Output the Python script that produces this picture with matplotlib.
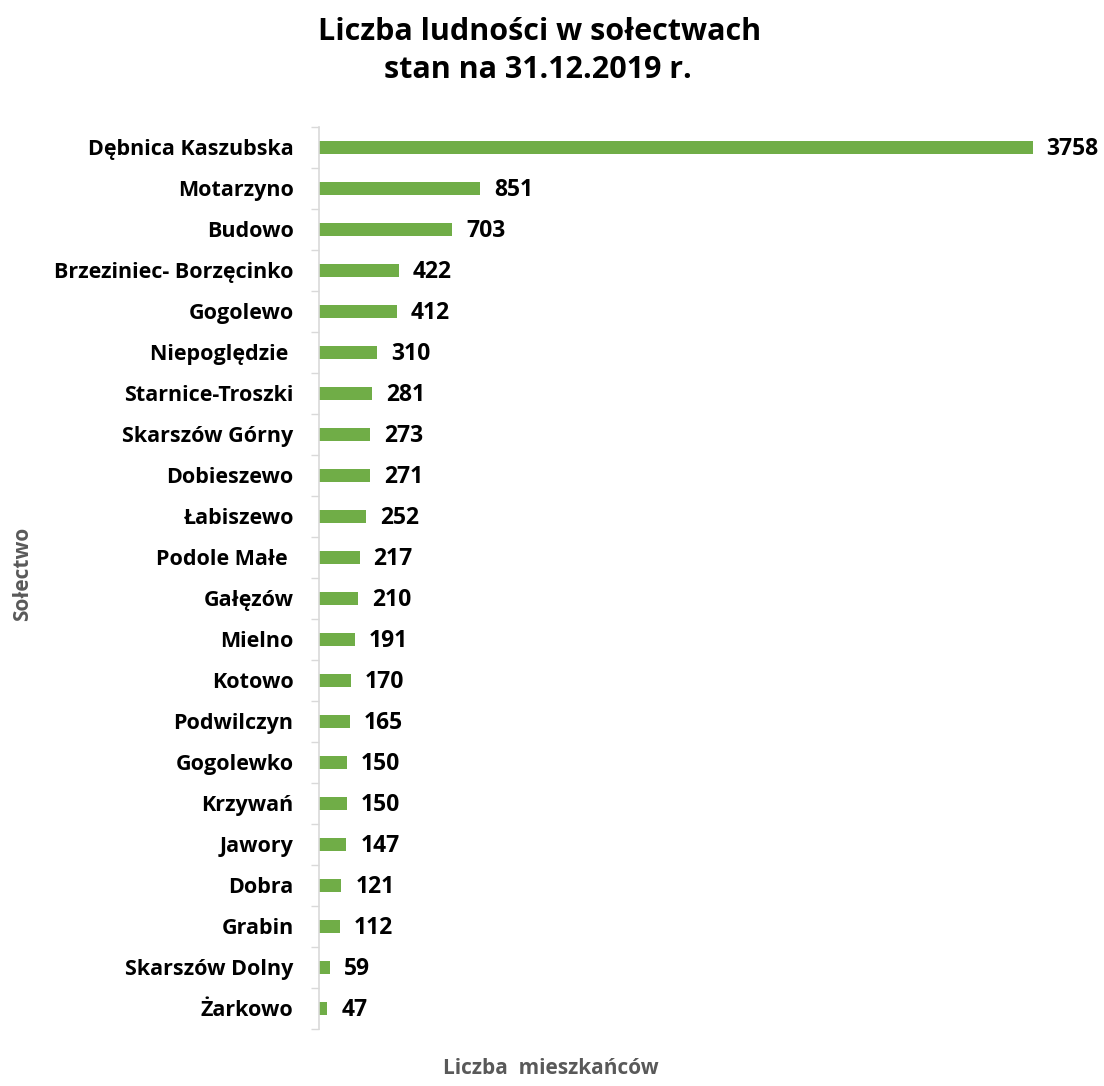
import numpy as np
import matplotlib.pyplot as plt
from matplotlib.ticker import FixedLocator

plt.rcParams['font.family'] = ['Open Sans', 'DejaVu Sans']

# Sołectwa and population (state at 31.12.2019)
villages = ['Dębnica Kaszubska', 'Motarzyno', 'Budowo', 'Brzeziniec- Borzęcinko',
            'Gogolewo', 'Niepoględzie ', 'Starnice-Troszki', 'Skarszów Górny',
            'Dobieszewo', 'Łabiszewo', 'Podole Małe ', 'Gałęzów', 'Mielno',
            'Kotowo', 'Podwilczyn', 'Gogolewko', 'Krzywań', 'Jawory', 'Dobra',
            'Grabin', 'Skarszów Dolny', 'Żarkowo']
population = [3758, 851, 703, 422, 412, 310, 281, 273, 271, 252, 217, 210, 191,
              170, 165, 150, 150, 147, 121, 112, 59, 47]

green = '#70AD47'
grey_axis = '#D9D9D9'
grey_text = '#595959'

fig = plt.figure(figsize=(11.04, 10.86), dpi=100)
ax = fig.add_axes([0.2885, 0.0525, 0.6885, 0.8306])

y = np.arange(len(villages))
bars = ax.barh(y, population, height=0.33, color=green)

ax.set_xlim(0, 4000)
ax.set_ylim(len(villages) - 0.5, -0.5)

# value labels at the end of each bar
for b, v in zip(bars, population):
    ax.annotate(str(v), xy=(b.get_width(), b.get_y() + b.get_height() / 2),
                xytext=(10, -1), textcoords='offset points',
                ha='left', va='center', fontsize=16.5, fontweight='bold')

ax.set_yticks(y)
ax.set_yticklabels(villages, fontsize=15.5, fontweight='bold')
ax.tick_params(axis='y', which='major', length=0, pad=18)
ax.yaxis.set_minor_locator(FixedLocator(np.arange(-0.5, len(villages), 1)))
ax.tick_params(axis='y', which='minor', length=6, width=1, color=grey_axis)
ax.set_xticks([])

for s in ['top', 'right', 'bottom']:
    ax.spines[s].set_visible(False)
ax.spines['left'].set_color(grey_axis)
ax.spines['left'].set_linewidth(1.2)

fig.text(0.489, 0.984, 'Liczba ludności w sołectwach', ha='center', va='top',
         fontsize=22, fontweight='bold')
fig.text(0.487, 0.949, 'stan na 31.12.2019 r.', ha='center', va='top',
         fontsize=22, fontweight='bold')

fig.text(0.499, 0.006, 'Liczba  mieszkańców', ha='center', va='bottom',
         fontsize=15, fontweight='bold', color=grey_text)
fig.text(0.02, 0.472, 'Sołectwo', ha='center', va='center', rotation=90,
         fontsize=15, fontweight='bold', color=grey_text)

fig.savefig('out.png', dpi=100)
